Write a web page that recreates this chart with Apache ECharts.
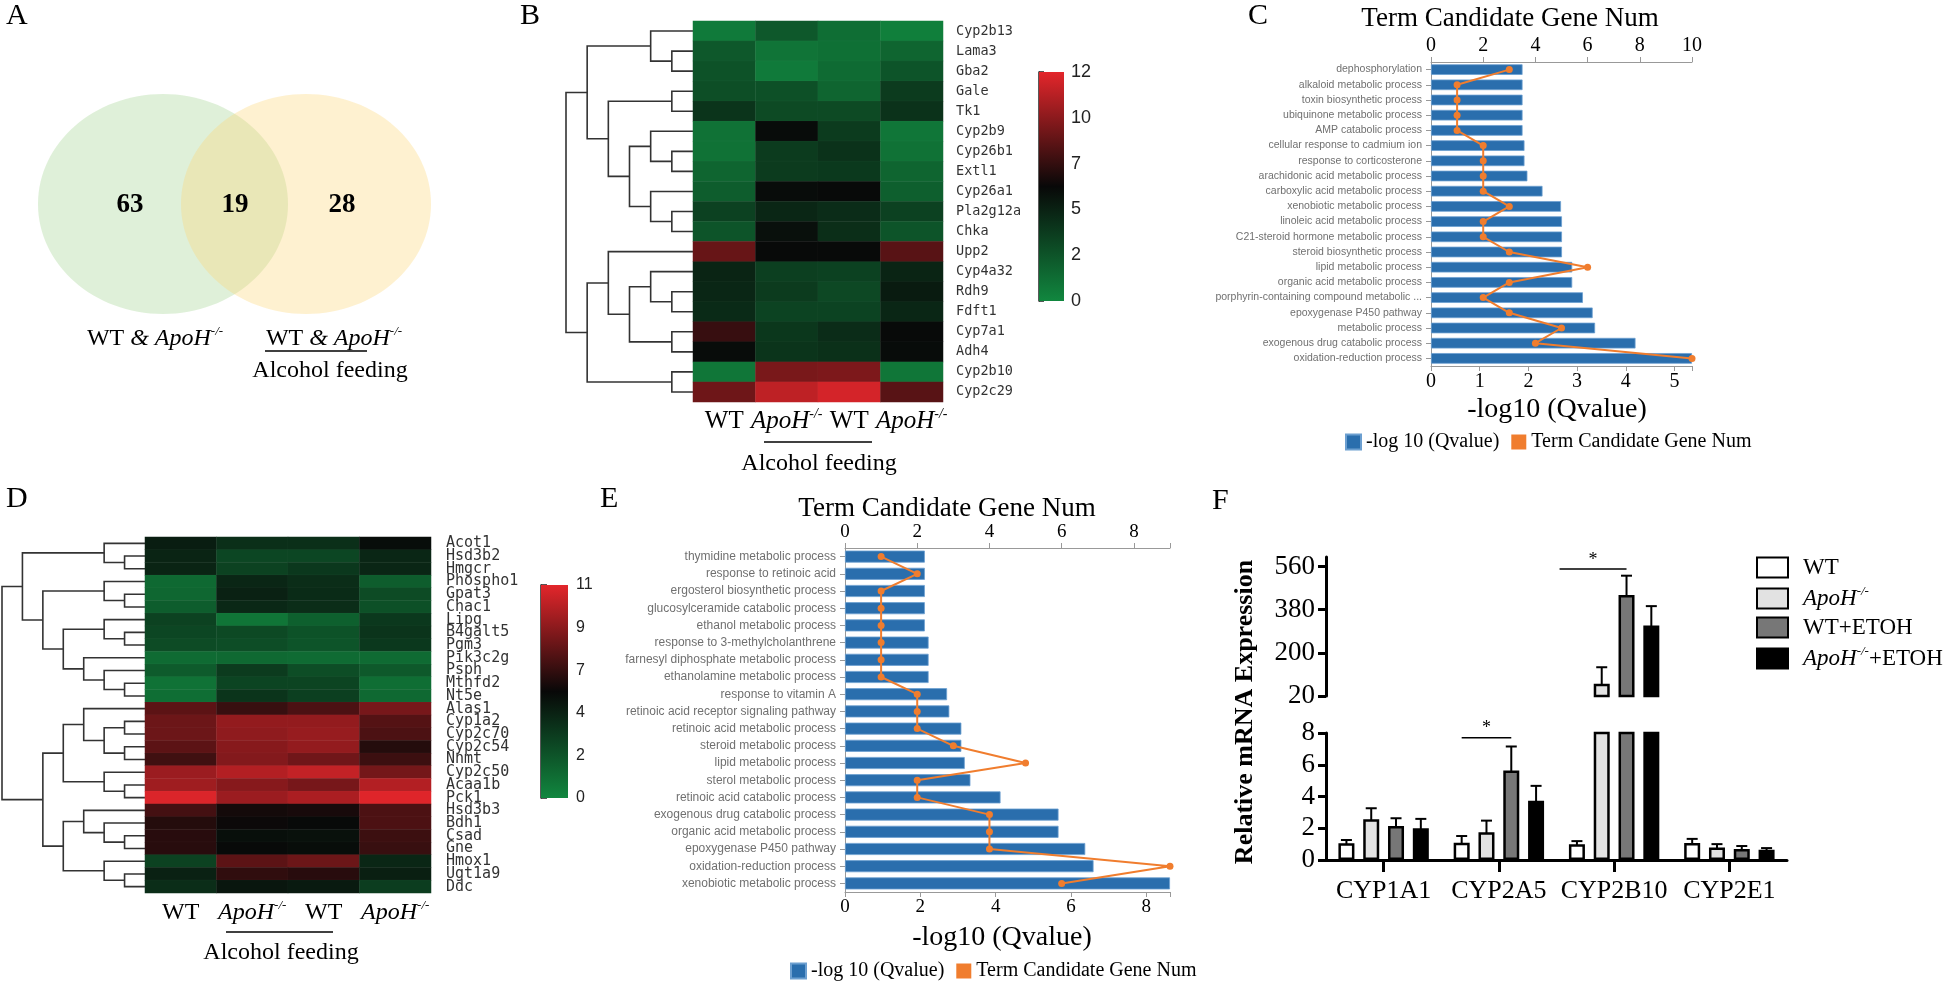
<!DOCTYPE html>
<html><head><meta charset="utf-8">
<script src="https://cdn.jsdelivr.net/npm/echarts@6/dist/echarts.min.js"></script>
<style>html,body{margin:0;padding:0;background:#fff}#c{width:1944px;height:984px}</style>
</head><body><div id="c"></div>
<script>
// ---------------- DATA ----------------
// Panel A (Venn counts: left only, overlap, right only)
const vennCounts = [63, 19, 28];

// Panel B
const geneB = ['Cyp2b13','Lama3','Gba2','Gale','Tk1','Cyp2b9','Cyp26b1','Extl1','Cyp26a1','Pla2g12a','Chka','Upp2','Cyp4a32','Rdh9','Fdft1','Cyp7a1','Adh4','Cyp2b10','Cyp2c29'];
const groupCols = ['WT','ApoH-/-','WT','ApoH-/-'];
const heatB = [
  [0.6,2.2,1.2,0.4],[2.2,0.9,1.1,1.6],[2.5,0.6,1.3,2.4],[2.7,2.6,1.6,3.6],[3.9,2.9,2.9,4.0],
  [1.0,5.8,3.6,0.8],[1.0,3.6,4.0,1.0],[1.6,3.6,3.7,1.6],[2.0,5.8,5.9,1.9],[3.3,4.6,4.3,3.3],
  [2.4,5.6,4.2,2.4],[8.6,5.9,5.9,8.2],[4.7,3.4,3.3,4.7],[4.6,3.6,3.0,5.1],[4.4,3.2,3.2,4.6],
  [7.3,3.8,4.3,5.9],[5.8,3.9,4.1,5.8],[0.8,9.1,9.2,0.8],[8.8,11.0,11.6,8.2]
];
const heatBMax = 12;
// dendrogram merges [childA, childB, height]; leaves 0..n-1, merge k -> n+k
const dendroB = [[1,2,1],[0,19,2],[3,4,1],[6,7,1],[5,22,2],[9,10,1],[8,24,2],[23,25,3],[21,26,4],[20,27,5],
  [13,14,1],[12,29,2],[15,16,1],[30,31,3],[11,32,4],[17,18,1],[33,34,5],[28,35,6]];

// Panel C
const termsC = ['dephosphorylation','alkaloid metabolic process','toxin biosynthetic process','ubiquinone metabolic process','AMP catabolic process','cellular response to cadmium ion','response to corticosterone','arachidonic acid metabolic process','carboxylic acid metabolic process','xenobiotic metabolic process','linoleic acid metabolic process','C21-steroid hormone metabolic process','steroid biosynthetic process','lipid metabolic process','organic acid metabolic process','porphyrin-containing compound metabolic ...','epoxygenase P450 pathway','metabolic process','exogenous drug catabolic process','oxidation-reduction process'];
const qC = [1.88,1.88,1.88,1.88,1.88,1.92,1.92,1.98,2.29,2.67,2.69,2.69,2.69,2.9,2.9,3.12,3.32,3.37,4.2,5.36];
const numC = [3,1,1,1,1,2,2,2,2,3,2,2,3,6,3,2,3,5,4,10];

// Panel D
const geneD = ['Acot1','Hsd3b2','Hmgcr','Phospho1','Gpat3','Chac1','Lipg','B4galt5','Pgm3','Pik3c2g','Psph','Mthfd2','Nt5e','Alas1','Cyp1a2','Cyp2c70','Cyp2c54','Nnmt','Cyp2c50','Acaa1b','Pck1','Hsd3b3','Bdh1','Csad','Gne','Hmox1','Ugt1a9','Ddc'];
const heatD = [
  [4.6,3.8,3.8,5.3],[4.3,2.8,2.8,4.2],[4.3,3.0,3.4,4.2],[1.3,4.2,3.9,1.8],[1.4,4.4,4.0,2.6],
  [1.8,4.1,3.9,2.4],[3.0,0.8,1.7,3.4],[2.8,2.7,2.3,3.6],[2.6,2.5,2.2,3.4],[1.2,1.3,1.2,1.2],
  [1.9,3.3,2.5,2.0],[0.9,2.9,2.9,1.1],[1.1,3.6,3.1,1.3],[7.6,6.7,7.2,8.3],[8.0,9.0,9.0,7.4],
  [8.0,8.9,9.1,7.2],[7.6,8.7,9.0,6.2],[6.9,8.6,8.1,6.8],[9.2,9.8,10.2,8.2],[9.3,8.7,8.3,9.8],
  [10.8,9.2,9.6,10.9],[7.0,5.8,5.9,7.2],[6.2,5.6,5.4,7.2],[6.3,5.2,5.1,6.8],[6.3,5.4,5.3,6.7],
  [3.0,7.6,8.0,4.2],[4.4,6.5,6.3,4.5],[3.9,4.9,4.7,3.2]
];
const heatDMax = 11;
const dendroD = [[1,2,1],[0,28,2],[4,5,1],[3,30,2],[7,8,1],[6,32,2],[11,12,1],[10,34,2],[9,35,3],[33,36,4],
  [31,37,5],[29,38,6],[14,15,1],[16,17,1],[40,41,2],[13,42,3],[19,20,1],[18,44,2],[43,45,4],[23,24,1],
  [22,47,2],[21,48,3],[26,27,1],[25,50,2],[49,51,4],[46,52,5],[39,53,7]];

// Panel E
const termsE = ['thymidine metabolic process','response to retinoic acid','ergosterol biosynthetic process','glucosylceramide catabolic process','ethanol metabolic process','response to 3-methylcholanthrene','farnesyl diphosphate metabolic process','ethanolamine metabolic process','response to vitamin A','retinoic acid receptor signaling pathway','retinoic acid metabolic process','steroid metabolic process','lipid metabolic process','sterol metabolic process','retinoic acid catabolic process','exogenous drug catabolic process','organic acid metabolic process','epoxygenase P450 pathway','oxidation-reduction process','xenobiotic metabolic process'];
const qE = [2.12,2.12,2.12,2.12,2.12,2.22,2.22,2.22,2.71,2.77,3.09,3.09,3.18,3.33,4.13,5.67,5.67,6.38,6.6,8.63];
const numE = [1,2,1,1,1,1,1,1,2,2,2,3,5,2,2,4,4,4,9,6];

// Panel F
const genesF = ['CYP1A1','CYP2A5','CYP2B10','CYP2E1'];
const groupsF = ['WT','ApoH-/-','WT+ETOH','ApoH-/-+ETOH'];
const wtMean = [1.05,1.09,0.99,1.07];
const apohMean = [2.57,1.75,71,0.78];
const wtEtohMean = [2.14,5.63,441,0.70];
const apohEtohMean = [2.0,3.74,314,0.65];
const wtErr = [0.21,0.42,0.2,0.26];
const apohErr = [0.69,0.73,69,0.22];
const wtEtohErr = [0.49,1.52,81,0.18];
const apohEtohErr = [0.59,0.93,81,0.1];
const upperTicks = [20,200,380,560];
const lowerTicks = [0,2,4,6,8];
// significance: [gene index, from group, to group, y value]
const sigUpper = [[2,-0.7,2,550]];
const sigLower = [[1,0,2,7.7]];

// ---------------- STYLE ----------------
const SERIF = '"Liberation Serif","Times New Roman",serif';
const SANS = '"Liberation Sans",Arial,sans-serif';
const MONO = '"DejaVu Sans Mono",monospace';
const HM_COLORS = ['#11873f','#080808','#e3262b'];
const BLUE = '#2a6ead', ORANGE = '#f07d2e', AX = '#999';
const BAR_W = 16, BAR_GAP = 0.55, SPACING = BAR_W*(1+BAR_GAP), CAP = 11;
const F_FILL = ['#ffffff','#e2e2e2','#777777','#000000'];

const chart = echarts.init(document.getElementById('c'), null, {renderer:'canvas'});

function dendroSegments(merges, n){
  const y=[],h=[];
  for(let i=0;i<n;i++){y[i]=i;h[i]=0;}
  return merges.map((m,k)=>{const [a,b,ht]=m,id=n+k;y[id]=(y[a]+y[b])/2;h[id]=ht;return [h[a],y[a],ht,y[b],h[b]];});
}
function dendroRender(params, api){
  const a=api.coord([api.value(0),api.value(1)]), b=api.coord([api.value(2),api.value(1)]),
        c=api.coord([api.value(2),api.value(3)]), d=api.coord([api.value(4),api.value(3)]);
  return {type:'polyline',shape:{points:[a,b,c,d]},style:{stroke:'#333',lineWidth:1.6,fill:null}};
}
function cbarRender(maxV){
  return (params, api)=>{
    const p0=api.coord([0,0]), p1=api.coord([1,maxV]);
    const stops=HM_COLORS.map((c,i)=>({offset:i/(HM_COLORS.length-1),color:c}));
    return {type:'rect',shape:{x:p0[0],y:p1[1],width:p1[0]-p0[0],height:p0[1]-p1[1]},
      style:{fill:new echarts.graphic.LinearGradient(0,1,0,0,stops)}};
  };
}
const toHeat = rows => rows.flatMap((r,i)=>r.map((v,j)=>[j,i,v]));
const richG = (fs)=>({
  n:{fontFamily:SERIF,fontSize:fs,color:'#000',lineHeight:fs+4},
  i:{fontFamily:SERIF,fontSize:fs,fontStyle:'italic',color:'#000',lineHeight:fs+4},
  s:{fontFamily:SERIF,fontSize:Math.round(fs*0.55),fontStyle:'italic',color:'#000',verticalAlign:'top',lineHeight:Math.round(fs*0.55)}
});
const grpFmt = v => v==='WT' ? '{n|WT}' : '{i|ApoH}{s|-/-}';

function catAxisTerms(grid, data, fs){
  return {type:'category',gridIndex:grid,data:data,inverse:true,
    axisLine:{show:true,lineStyle:{color:AX}},
    axisTick:{show:true,alignWithLabel:true,length:5,lineStyle:{color:AX}},
    axisLabel:{interval:0,fontFamily:SANS,fontSize:fs,color:'#707070',margin:9},splitLine:{show:false}};
}
function valAxisGO(grid, pos, maxV, labelStep, fs){
  const labs=[]; for(let v=0; v<=maxV+1e-9; v+=labelStep) labs.push(+v.toFixed(6));
  const ticks=labs.slice(); if(Math.abs(labs[labs.length-1]-maxV)>1e-6) ticks.push(maxV);
  return {type:'value',gridIndex:grid,position:pos,min:0,max:maxV,
    axisLine:{show:true,lineStyle:{color:AX}},
    axisTick:{show:true,length:5,customValues:ticks,lineStyle:{color:AX}},
    axisLabel:{customValues:labs,fontFamily:SERIF,fontSize:fs,color:'#000',margin:6},
    splitLine:{show:false}};
}

const segsB = dendroSegments(dendroB, geneB.length);
const segsD = dendroSegments(dendroD, geneD.length);
const fMeans = [wtMean, apohMean, wtEtohMean, apohEtohMean];
const fErrs = [wtErr, apohErr, wtEtohErr, apohEtohErr];
const errData = [];
fMeans.forEach((arr,g)=>arr.forEach((m,c)=>errData.push([c,g,m,fErrs[g][c]])));

function errRender(params, api){
  const c=api.value(0), g=api.value(1), m=api.value(2), e=api.value(3);
  const cx=api.coord([c,m])[0]+(g-1.5)*SPACING;
  const yt=api.coord([c,m+e])[1], yb=api.coord([c,m-e])[1], w=CAP/2;
  const st={stroke:'#000',lineWidth:2};
  return {type:'group',children:[
    {type:'line',shape:{x1:cx,y1:yt,x2:cx,y2:yb},style:st},
    {type:'line',shape:{x1:cx-w,y1:yt,x2:cx+w,y2:yt},style:st},
    {type:'line',shape:{x1:cx-w,y1:yb,x2:cx+w,y2:yb},style:st}]};
}
function sigRender(params, api){
  const c=api.value(0), f=api.value(1), t=api.value(2), y=api.value(3);
  const p=api.coord([c,y]);
  const x1=p[0]+(f-1.5)*SPACING, x2=p[0]+(t-1.5)*SPACING;
  return {type:'group',children:[
    {type:'line',shape:{x1:x1,y1:p[1],x2:x2,y2:p[1]},style:{stroke:'#000',lineWidth:1.5}},
    {type:'text',style:{x:(x1+x2)/2,y:p[1]-9,text:'*',font:'18px '+SERIF,fill:'#000',align:'center',verticalAlign:'middle'}}]};
}

function fBars(xi, yi){
  return groupsF.map((name,g)=>({type:'bar',name:name,xAxisIndex:xi,yAxisIndex:yi,data:fMeans[g],
    barWidth:BAR_W,barGap:(BAR_GAP*100)+'%',clip:true,silent:true,
    itemStyle:{color:F_FILL[g],borderColor:'#000',borderWidth:2.5}}));
}

// ---------------- GRAPHIC TEXT ----------------
function T(x,y,text,font,align,vAlign,extra){
  align=align||'center'; vAlign=vAlign||'middle';
  return Object.assign({type:'text',x:x,y:y,silent:true,
    style:{text:text,font:font,fill:'#000',align:align,verticalAlign:vAlign,textAlign:align,textVerticalAlign:vAlign}},extra||{});
}
function TR(x,y,text,rich){
  return {type:'text',x:x,y:y,silent:true,style:{text:text,rich:rich,align:'center',verticalAlign:'middle',textAlign:'center',textVerticalAlign:'middle'}};
}
function L(x1,y1,x2,y2,w){return {type:'line',silent:true,shape:{x1,y1,x2,y2},style:{stroke:'#000',lineWidth:w||1.5}};}

const LET = '30px '+SERIF;
const graphics = [
  // Venn
  {type:'ellipse',silent:true,shape:{cx:163,cy:204,rx:125,ry:110},style:{fill:'rgba(140,200,120,0.28)'}},
  {type:'ellipse',silent:true,shape:{cx:306,cy:204,rx:125,ry:110},style:{fill:'rgba(252,215,120,0.35)'}},
  T(130,205,String(vennCounts[0]),'bold 27px '+SERIF),
  T(235,205,String(vennCounts[1]),'bold 27px '+SERIF),
  T(342,205,String(vennCounts[2]),'bold 27px '+SERIF),
  TR(155,339,'{n|WT }{i|& ApoH}{s|-/-}',richG(24)),
  TR(334,339,'{n|WT }{i|& ApoH}{s|-/-}',richG(24)),
  L(265,351,367,351,1.5),
  T(330,371,'Alcohol feeding','24px '+SERIF),
  // letters
  T(6,16,'A',LET,'left'), T(520,16,'B',LET,'left'), T(1248,16,'C',LET,'left'),
  T(6,499,'D',LET,'left'), T(600,499,'E',LET,'left'), T(1212,501,'F',LET,'left'),
  // B annotations
  L(764,442,872,442,1.5), T(819,464,'Alcohol feeding','24px '+SERIF),
  // D annotations
  L(226,932,333,932,1.5), T(281,953,'Alcohol feeding','24px '+SERIF),
  // C, E titles/axis names
  T(1510,19,'Term Candidate Gene Num','27px '+SERIF),
  T(1557,410,'-log10 (Qvalue)','28px '+SERIF),
  T(947,509,'Term Candidate Gene Num','27px '+SERIF),
  T(1002,938,'-log10 (Qvalue)','28px '+SERIF),
  // F y name
  T(1245,712,'Relative mRNA Expression','bold 26px '+SERIF,'center','middle',{rotation:Math.PI/2})
];

const gridBase = {outerBoundsMode:'none',containLabel:false};
const G = (l,t,w,h)=>Object.assign({left:l,top:t,width:w,height:h},gridBase);

const option = {
  animation:false,
  backgroundColor:'#fff',
  grid:[
    G(566,21,127,381),   // 0 B dendro
    G(693,21,250,381),   // 1 B heat
    G(1039,72,25,229),   // 2 B cbar
    G(1431,62,261,304),  // 3 C
    G(2,537,143,356),    // 4 D dendro
    G(145,537,286,356),  // 5 D heat
    G(541,585,27,213),   // 6 D cbar
    G(845,548,325,344),  // 7 E
    G(1326,557,461,139), // 8 F upper
    G(1326,733,461,127)  // 9 F lower
  ],
  xAxis:[
    {type:'value',gridIndex:0,min:0,max:6,inverse:true,show:false},
    {type:'category',gridIndex:1,data:groupCols,axisLine:{show:false},axisTick:{show:false},
      axisLabel:{interval:0,margin:5,formatter:grpFmt,rich:richG(25)}},
    {type:'value',gridIndex:2,min:0,max:1,show:false},
    valAxisGO(3,'bottom',Math.max(...qC),1,20),
    valAxisGO(3,'top',Math.max(...numC),2,20),
    {type:'value',gridIndex:4,min:0,max:7,inverse:true,show:false},
    {type:'category',gridIndex:5,data:groupCols,axisLine:{show:false},axisTick:{show:false},
      axisLabel:{interval:0,margin:6,formatter:grpFmt,rich:richG(24)}},
    {type:'value',gridIndex:6,min:0,max:1,show:false},
    valAxisGO(7,'bottom',Math.max(...qE),2,19),
    valAxisGO(7,'top',Math.max(...numE),2,19),
    {type:'category',gridIndex:8,data:genesF,show:false},
    {type:'category',gridIndex:9,data:genesF,
      axisLine:{show:true,lineStyle:{color:'#000',width:3}},
      axisTick:{show:true,alignWithLabel:true,length:12,lineStyle:{color:'#000',width:3}},
      axisLabel:{interval:0,fontFamily:SERIF,fontSize:26,color:'#000',margin:18}}
  ],
  yAxis:[
    {type:'value',gridIndex:0,min:-0.5,max:geneB.length-0.5,inverse:true,show:false},
    {type:'category',gridIndex:1,data:geneB,inverse:true,position:'right',axisLine:{show:false},axisTick:{show:false},
      axisLabel:{interval:0,fontFamily:MONO,fontSize:13.5,color:'#333',margin:13}},
    {type:'value',gridIndex:2,position:'right',min:0,max:heatBMax,interval:heatBMax/5,
      axisLine:{show:true,lineStyle:{color:'#222',width:1.5}},axisTick:{show:true,length:5,lineStyle:{color:'#222',width:1.5}},
      axisLabel:{formatter:v=>String(Math.round(v)),fontFamily:SANS,fontSize:18,color:'#222',margin:7},splitLine:{show:false}},
    catAxisTerms(3,termsC,10.5),
    {type:'value',gridIndex:4,min:-0.5,max:geneD.length-0.5,inverse:true,show:false},
    {type:'category',gridIndex:5,data:geneD,inverse:true,position:'right',axisLine:{show:false},axisTick:{show:false},
      axisLabel:{interval:0,fontFamily:MONO,fontSize:15,color:'#333',margin:15}},
    {type:'value',gridIndex:6,position:'right',min:0,max:heatDMax,interval:heatDMax/5,
      axisLine:{show:true,lineStyle:{color:'#222',width:1.5}},axisTick:{show:true,length:6,lineStyle:{color:'#222',width:1.5}},
      axisLabel:{formatter:v=>String(Math.round(v)),fontFamily:SANS,fontSize:16,color:'#222',margin:8},splitLine:{show:false}},
    catAxisTerms(7,termsE,12),
    {type:'value',gridIndex:8,min:20,max:600,
      axisLine:{show:true,lineStyle:{color:'#000',width:3}},
      axisTick:{show:true,customValues:upperTicks,length:8,lineStyle:{color:'#000',width:3}},
      axisLabel:{customValues:upperTicks,fontFamily:SERIF,fontSize:27,color:'#000',margin:11},splitLine:{show:false}},
    {type:'value',gridIndex:9,min:0,max:8,interval:2,
      axisLine:{show:true,lineStyle:{color:'#000',width:3}},
      axisTick:{show:true,customValues:lowerTicks,length:8,lineStyle:{color:'#000',width:3}},
      axisLabel:{customValues:lowerTicks,fontFamily:SERIF,fontSize:27,color:'#000',margin:11},splitLine:{show:false}}
  ],
  visualMap:[
    {type:'continuous',show:false,min:0,max:heatBMax,seriesIndex:1,dimension:2,inRange:{color:HM_COLORS}},
    {type:'continuous',show:false,min:0,max:heatDMax,seriesIndex:6,dimension:2,inRange:{color:HM_COLORS}}
  ],
  legend:[
    {left:1345,top:432,padding:0,itemWidth:15,itemHeight:15,itemGap:12,icon:'rect',
      data:['-log 10 (Qvalue)','Term Candidate Gene Num'],
      textStyle:{fontFamily:SERIF,fontSize:20,color:'#000'}},
    {left:790,top:961,padding:0,itemWidth:15,itemHeight:15,itemGap:12,icon:'rect',
      data:['-log 10 (Qvalue)','Term Candidate Gene Num'],
      textStyle:{fontFamily:SERIF,fontSize:20,color:'#000'}},
    {left:1756,top:556,padding:0,orient:'vertical',itemWidth:31,itemHeight:20,itemGap:6,icon:'rect',
      data:groupsF,
      formatter:n=> n==='ApoH-/-' ? '{i|ApoH}{s|-/-}' : (n==='ApoH-/-+ETOH' ? '{i|ApoH}{s|-/-}{n|+ETOH}' : '{n|'+n+'}'),
      textStyle:{fontFamily:SERIF,fontSize:23,color:'#000',padding:[0,0,0,10],rich:richG(23)}}
  ],
  graphic:graphics,
  series:[
    {type:'custom',name:'dB',xAxisIndex:0,yAxisIndex:0,data:segsB,renderItem:dendroRender,silent:true,encode:{x:[0,2,4],y:[1,3]}},
    {type:'heatmap',name:'hB',xAxisIndex:1,yAxisIndex:1,data:toHeat(heatB),silent:true,
      itemStyle:{borderColor:'rgba(255,255,255,0.06)',borderWidth:0.5}},
    {type:'custom',name:'cbB',xAxisIndex:2,yAxisIndex:2,data:[[0,0]],renderItem:cbarRender(heatBMax),silent:true},
    {type:'bar',name:'-log 10 (Qvalue)',xAxisIndex:3,yAxisIndex:3,data:qC,barCategoryGap:'30%',silent:true,
      itemStyle:{color:BLUE,borderColor:'#6c9fd0',borderWidth:0.8}},
    {type:'line',name:'Term Candidate Gene Num',xAxisIndex:4,yAxisIndex:3,data:numC,symbol:'circle',symbolSize:7,silent:true,
      lineStyle:{color:ORANGE,width:2},itemStyle:{color:ORANGE}},
    {type:'custom',name:'dD',xAxisIndex:5,yAxisIndex:4,data:segsD,renderItem:dendroRender,silent:true,encode:{x:[0,2,4],y:[1,3]}},
    {type:'heatmap',name:'hD',xAxisIndex:6,yAxisIndex:5,data:toHeat(heatD),silent:true,
      itemStyle:{borderColor:'rgba(255,255,255,0.06)',borderWidth:0.5}},
    {type:'custom',name:'cbD',xAxisIndex:7,yAxisIndex:6,data:[[0,0]],renderItem:cbarRender(heatDMax),silent:true},
    {type:'bar',name:'-log 10 (Qvalue)',xAxisIndex:8,yAxisIndex:7,data:qE,barCategoryGap:'30%',silent:true,
      itemStyle:{color:BLUE,borderColor:'#6c9fd0',borderWidth:0.8}},
    {type:'line',name:'Term Candidate Gene Num',xAxisIndex:9,yAxisIndex:7,data:numE,symbol:'circle',symbolSize:7,silent:true,
      lineStyle:{color:ORANGE,width:2},itemStyle:{color:ORANGE}},
    ...fBars(10,8),
    {type:'custom',name:'errU',xAxisIndex:10,yAxisIndex:8,data:errData,renderItem:errRender,clip:true,silent:true,encode:{x:0,y:2}},
    {type:'custom',name:'sigU',xAxisIndex:10,yAxisIndex:8,data:sigUpper,renderItem:sigRender,silent:true,encode:{x:0,y:3}},
    ...fBars(11,9),
    {type:'custom',name:'errL',xAxisIndex:11,yAxisIndex:9,data:errData,renderItem:errRender,clip:true,silent:true,encode:{x:0,y:2}},
    {type:'custom',name:'sigL',xAxisIndex:11,yAxisIndex:9,data:sigLower,renderItem:sigRender,silent:true,encode:{x:0,y:3}}
  ]
};
chart.setOption(option);
</script></body></html>
